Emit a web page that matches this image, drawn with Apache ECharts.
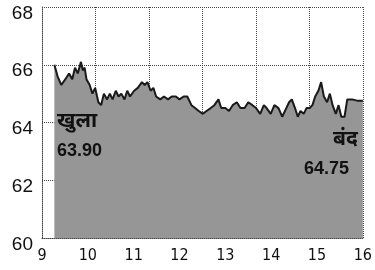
<!DOCTYPE html>
<html>
<head>
<meta charset="utf-8">
<script src="https://cdn.jsdelivr.net/npm/echarts@6/dist/echarts.min.js"></script>
<style>
  html, body { margin: 0; padding: 0; background: #fff; }
  #main { width: 375px; height: 270px; }
</style>
</head>
<body>
<div id="main"></div>
<script>
// intraday price, hours (decimal) vs rupee value
var times = [9.27, 9.34, 9.42, 9.51, 9.59, 9.66, 9.72, 9.78, 9.85, 9.89, 9.93, 9.97,
  10.04, 10.10, 10.16, 10.23, 10.29, 10.35, 10.42, 10.48, 10.54, 10.61, 10.67, 10.73, 10.80, 10.86, 10.92,
  11.01, 11.09, 11.18, 11.24, 11.30, 11.37, 11.43, 11.49, 11.58, 11.66, 11.75, 11.83, 11.92,
  12.00, 12.09, 12.17, 12.26, 12.34, 12.42, 12.51, 12.59, 12.68, 12.76, 12.85, 12.91,
  13.00, 13.08, 13.16, 13.25, 13.33, 13.42, 13.50, 13.59, 13.67, 13.76, 13.84, 13.90, 13.99,
  14.07, 14.16, 14.24, 14.33, 14.39, 14.45, 14.52, 14.58, 14.64, 14.71, 14.77, 14.84, 14.90, 14.96,
  15.03, 15.09, 15.15, 15.22, 15.28, 15.34, 15.41, 15.47, 15.53, 15.60, 15.64, 15.66, 15.77, 15.89, 16.00]
var prices = [66.0, 65.6, 65.3, 65.5, 65.7, 65.5, 65.9, 65.7, 66.1, 65.8, 65.9, 65.5,
  65.3, 65.0, 65.2, 64.7, 64.6, 65.0, 64.8, 65.0, 64.8, 65.1, 64.9, 65.0, 64.8, 65.1, 64.9,
  65.1, 65.2, 65.4, 65.3, 65.4, 65.1, 65.2, 64.9, 64.8, 64.9, 64.8, 64.9, 64.9,
  64.8, 64.9, 64.9, 64.6, 64.5, 64.4, 64.3, 64.4, 64.5, 64.6, 64.8, 64.5,
  64.5, 64.4, 64.6, 64.7, 64.5, 64.5, 64.7, 64.6, 64.5, 64.3, 64.6, 64.5, 64.3,
  64.6, 64.5, 64.2, 64.5, 64.7, 64.8, 64.5, 64.2, 64.4, 64.3, 64.5, 64.5, 64.6, 64.9,
  65.1, 65.4, 64.9, 64.7, 65.0, 64.6, 64.3, 64.6, 64.2, 64.2, 64.2, 64.8, 64.8, 64.75, 64.75]
var hourTicks = [9, 10, 11, 12, 13, 14, 15, 16]
var openLabel = ['खुला', '63.90']
var closeLabel = ['बंद', '64.75']

var chart = echarts.init(document.getElementById('main'))
var dotted = { color: '#444', type: 'dotted', width: 1 }

chart.setOption({
  animation: false,
  backgroundColor: '#fff',
  grid: { left: 42, right: 2, top: 7, bottom: 32 },
  xAxis: [{
    type: 'value', min: 9, max: 16, interval: 1,
    axisLine: { show: true, lineStyle: dotted },
    axisTick: { show: false },
    splitLine: { show: false },
    axisLabel: {
      color: '#111', fontSize: 16, margin: 10,
      fontFamily: '"Liberation Sans Narrow", "DejaVu Sans Condensed", sans-serif',
      formatter: function(v) { return hourTicks.indexOf(v) >= 0 ? String(v) : '' }
    }
  }, {
    // six equal grid cells, as drawn in the original
    type: 'value', min: 0, max: 6, interval: 1, show: true, position: 'top',
    axisLine: { show: false }, axisTick: { show: false }, axisLabel: { show: false },
    splitLine: { show: true, lineStyle: dotted }
  }],
  yAxis: {
    type: 'value', min: 60, max: 68, interval: 2,
    axisLine: { show: true, lineStyle: dotted },
    axisTick: { show: false },
    splitLine: { show: true, lineStyle: dotted },
    axisLabel: {
      color: '#111', fontSize: 19, margin: 9,
      fontFamily: '"Liberation Sans", Arimo, sans-serif',
      verticalAlign: 'top', padding: [-3, 0, 0, 0]
    }
  },
  series: [{
    type: 'line',
    xAxisIndex: 0,
    data: times.map(function(t, i) { return [t, prices[i]] }),
    showSymbol: false,
    lineStyle: { color: '#1a1a1a', width: 2 },
    areaStyle: { color: '#969696', opacity: 1 },
    z: 3
  }],
  graphic: [
    { type: 'text', left: 57, top: 111, z: 10,
      style: { text: openLabel[0], fontSize: 21, fontWeight: 'bold', fill: '#111',
        fontFamily: '"Noto Sans", "Noto Sans CJK SC", sans-serif' } },
    { type: 'text', left: 57, top: 142, z: 10,
      style: { text: openLabel[1], fontSize: 18, fontWeight: 'bold', fill: '#111',
        fontFamily: '"Liberation Sans", sans-serif' } },
    { type: 'text', left: 333, top: 129, z: 10,
      style: { text: closeLabel[0], fontSize: 21, fontWeight: 'bold', fill: '#111',
        fontFamily: '"Noto Sans", "Noto Sans CJK SC", sans-serif' } },
    { type: 'text', left: 304, top: 160, z: 10,
      style: { text: closeLabel[1], fontSize: 18, fontWeight: 'bold', fill: '#111',
        fontFamily: '"Liberation Sans", sans-serif' } }
  ]
})
</script>
</body>
</html>
